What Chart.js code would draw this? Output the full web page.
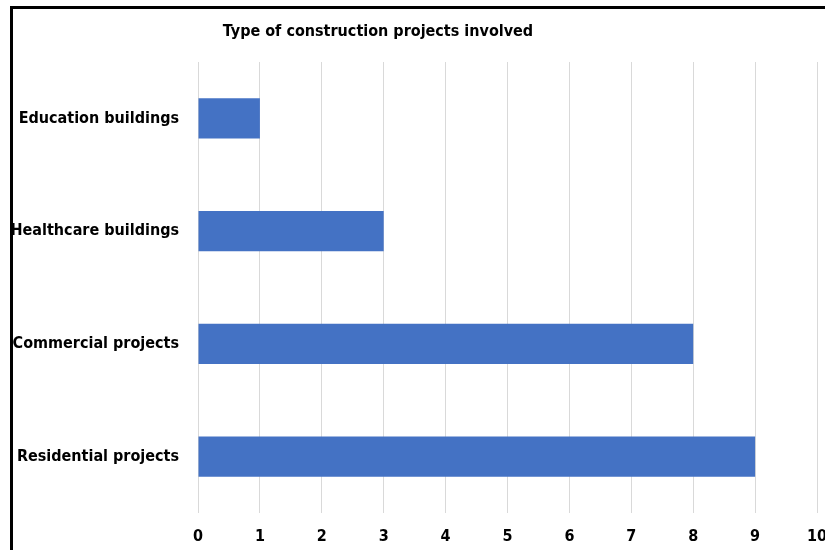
<!DOCTYPE html>
<html>
<head>
<meta charset="utf-8">
<script src="https://cdn.jsdelivr.net/npm/chart.js@4"></script>
<style>
  html, body { margin: 0; padding: 0; background: #fff; }
  #wrap { position: relative; width: 825px; height: 550px; overflow: hidden; }
  #frame { position: absolute; left: 10px; top: 6px; width: 900px; height: 600px;
           border-top: 3px solid #000; border-left: 3px solid #000; pointer-events: none; }
  canvas { position: absolute; left: 0; top: 0; }
</style>
</head>
<body>
<div id="wrap">
  <canvas id="chart" width="825" height="550"></canvas>
  <div id="frame"></div>
</div>
<script>
const CHART_TITLE = "Type of construction projects involved";
const categories = ["Education buildings", "Healthcare buildings", "Commercial projects", "Residential projects"];
const projectCounts = [1, 3, 8, 9];
const tickValues = [0, 1, 2, 3, 4, 5, 6, 7, 8, 9, 10];

const FONT = "'Liberation Sans Narrow', 'DejaVu Sans Condensed', 'Arial Narrow', sans-serif";

// title sits left of the plot centre in the original, so draw it by hand
const titlePlugin = {
  id: "manualTitle",
  afterDraw(chart) {
    const ctx = chart.ctx;
    ctx.save();
    ctx.font = "bold 16px " + FONT;
    ctx.fillStyle = "#000";
    ctx.textAlign = "center";
    ctx.textBaseline = "middle";
    ctx.fillText(CHART_TITLE, 378, 32);
    ctx.restore();
  },
};

new Chart(document.getElementById("chart"), {
  type: "bar",
  data: {
    labels: categories,
    datasets: [{
      data: projectCounts,
      backgroundColor: "#4472C4",
      borderWidth: 0,
      categoryPercentage: 1,
      barPercentage: 0.355,
    }],
  },
  options: {
    indexAxis: "y",
    responsive: false,
    animation: false,
    layout: { padding: { top: 62, right: 8, left: 0, bottom: 0 } },
    plugins: {
      legend: { display: false },
      tooltip: { enabled: false },
    },
    scales: {
      x: {
        min: 0,
        max: 10,
        afterBuildTicks: (scale) => {
          scale.ticks = tickValues.map((v) => ({ value: v }));
        },
        grid: { color: "#d9d9d9", lineWidth: 1, drawTicks: false },
        border: { display: false },
        ticks: {
          color: "#000",
          padding: 14,
          maxRotation: 0,
          font: { family: FONT, size: 16, weight: "bold" },
        },
        afterFit: (scale) => {
          scale.height = 37;
          scale.paddingLeft = 0;
          scale.paddingRight = 0;
        },
      },
      y: {
        grid: { display: false, drawTicks: false },
        border: { display: false },
        ticks: {
          color: "#000",
          padding: 19,
          font: { family: FONT, size: 16, weight: "bold" },
        },
        afterFit: (scale) => { scale.width = 198; },
      },
    },
  },
  plugins: [titlePlugin],
});
</script>
</body>
</html>
